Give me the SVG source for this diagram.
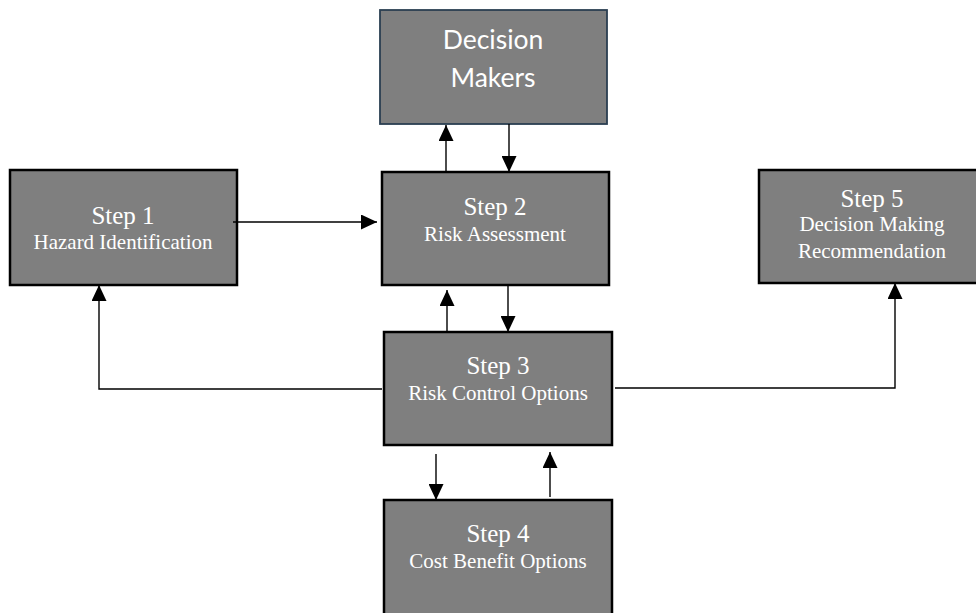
<svg xmlns="http://www.w3.org/2000/svg" width="976" height="613" viewBox="0 0 976 613">
<defs>
<marker id="ah" markerUnits="userSpaceOnUse" markerWidth="16" markerHeight="15" refX="16" refY="7.5" orient="auto">
<path d="M0,0 L16,7.5 L0,15 Z" fill="#000"/>
</marker>
<style>
.box{fill:#7f7f7f;stroke:#000;stroke-width:2.5}
.dm{fill:#7f7f7f;stroke:#2b3f52;stroke-width:1.8}
.t1{font-family:"Liberation Serif","Times New Roman",serif;font-size:25px;fill:#fff;text-anchor:middle}
.t2{font-family:"Liberation Serif","Times New Roman",serif;font-size:21px;fill:#fff;text-anchor:middle}
.ts{font-family:Lato,"Open Sans",sans-serif;font-size:26.5px;fill:#fff;text-anchor:middle}
.c{fill:none;stroke:#000;stroke-width:1.4}
.a{marker-end:url(#ah)}
</style>
</defs>
<rect width="976" height="613" fill="#fff"/>
<g id="decision-makers">
<rect class="dm" x="380" y="10" width="227" height="114"/>
<text class="ts" x="493" y="49">Decision</text>
<text class="ts" x="493" y="87">Makers</text>
</g>
<g id="step1">
<rect class="box" x="10" y="170" width="227" height="115"/>
<text class="t1" x="123" y="224">Step 1</text>
<text class="t2" x="123" y="249">Hazard Identification</text>
</g>
<g id="step2">
<rect class="box" x="382" y="172" width="227" height="113"/>
<text class="t1" x="495" y="215">Step 2</text>
<text class="t2" x="495" y="241">Risk Assessment</text>
</g>
<g id="step5">
<rect class="box" x="759" y="170" width="226" height="113"/>
<text class="t1" x="872" y="207">Step 5</text>
<text class="t2" x="872" y="231">Decision Making</text>
<text class="t2" x="872" y="258">Recommendation</text>
</g>
<g id="step3">
<rect class="box" x="384" y="332" width="228" height="113"/>
<text class="t1" x="498" y="374">Step 3</text>
<text class="t2" x="498" y="400">Risk Control Options</text>
</g>
<g id="step4">
<rect class="box" x="384" y="500" width="228" height="125"/>
<text class="t1" x="498" y="542">Step 4</text>
<text class="t2" x="498" y="568">Cost Benefit Options</text>
</g>
<g id="connectors">
<path class="c a" d="M446,172 V125"/>
<path class="c a" d="M509,124 V172"/>
<path class="c a" d="M233,222 H377"/>
<path class="c a" d="M447,332 V290"/>
<path class="c a" d="M508,286 V332"/>
<path class="c a" d="M382,389 H99 V285"/>
<path class="c a" d="M615,388 H895 V283"/>
<path class="c a" d="M436,454 V500"/>
<path class="c a" d="M550,497 V452"/>
</g>
</svg>
